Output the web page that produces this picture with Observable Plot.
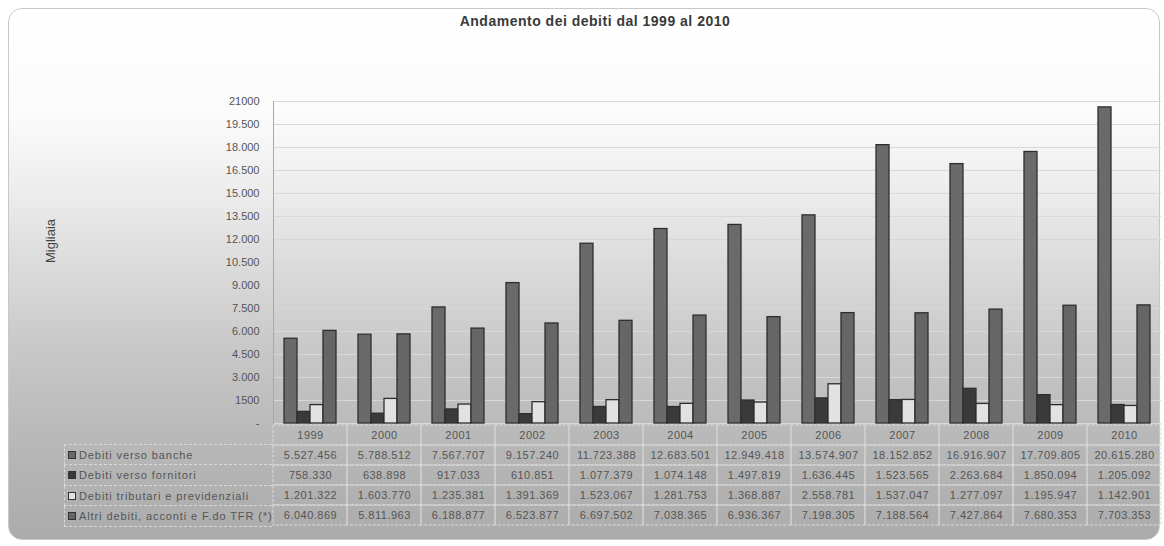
<!DOCTYPE html>
<html><head><meta charset="utf-8">
<script src="https://cdn.jsdelivr.net/npm/d3@7"></script>
<script src="https://cdn.jsdelivr.net/npm/@observablehq/plot@0.6"></script>
<style>
body{margin:0;background:#fff;}
#wrap{position:relative;width:1164px;height:546px;overflow:hidden;font-family:"Liberation Sans",Arial,sans-serif;background:#fff;}
#panel{position:absolute;left:8px;top:8px;width:1152px;height:532px;border:1px solid #c8c8c8;border-radius:14px;box-sizing:border-box;
 background:linear-gradient(to bottom,#ffffff 0%,#fbfbfb 20%,#ececec 35%,#d9d9d9 50%,#c7c7c7 65%,#b9b9b9 80%,#ababab 100%);}
#title{position:absolute;top:13px;left:0;width:1190px;text-align:center;font-size:14px;font-weight:bold;color:#3a3a3a;letter-spacing:0.5px;}
#ylab{position:absolute;left:50px;top:241px;transform:translate(-50%,-50%) rotate(-90deg);font-size:13px;color:#444;white-space:nowrap;}
#main,#table{position:absolute;left:0;}
#main{top:0;} #table{top:423px;}
#legend{position:absolute;left:64px;top:444px;width:208px;}
#legend div{height:20.8px;line-height:20.8px;box-sizing:border-box;border-bottom:1px dashed #d8d8d8;border-left:1px dashed #d8d8d8;font-size:11px;letter-spacing:0.9px;color:#555;white-space:nowrap;padding-left:3px;}
#legend div:first-child{border-top:1px dashed #d8d8d8;}
#legend span.sw{display:inline-block;width:6px;height:6px;border:1px solid #333;margin-right:3px;vertical-align:middle;position:relative;top:-1px;}
</style></head>
<body>
<div id="wrap">
 <div id="panel"></div>
 <div id="title">Andamento dei debiti dal 1999 al 2010</div>
 <div id="ylab">Migliaia</div>
 <div id="main"></div>
 <div id="table"></div>
 <div id="legend"></div>
</div>
<script>
const years = ["1999","2000","2001","2002","2003","2004","2005","2006","2007","2008","2009","2010"];
const seriesNames = ["Debiti verso banche","Debiti verso fornitori","Debiti tributari e previdenziali","Altri debiti, acconti e F.do TFR (*)"];
const banche = [5527456,5788512,7567707,9157240,11723388,12683501,12949418,13574907,18152852,16916907,17709805,20615280];
const fornitori = [758330,638898,917033,610851,1077379,1074148,1497819,1636445,1523565,2263684,1850094,1205092];
const tributari = [1201322,1603770,1235381,1391369,1523067,1281753,1368887,2558781,1537047,1277097,1195947,1142901];
const altri = [6040869,5811963,6188877,6523877,6697502,7038365,6936367,7198305,7188564,7427864,7680353,7703353];
const yTicks = [0,1500,3000,4500,6000,7500,9000,10500,12000,13500,15000,16500,18000,19500,21000];
const yTickLabels = ["-","1500","3.000","4.500","6.000","7.500","9.000","10.500","12.000","13.500","15.000","16.500","18.000","19.500","21000"];

const seriesValues = [banche, fornitori, tributari, altri];
const colors = ["#6a6a6a","#3a3a3a","#e2e2e2","#666666"];
const data = years.flatMap((yr, i) => seriesNames.map((s, j) => ({year: yr, series: s, raw: seriesValues[j][i], value: seriesValues[j][i] / 1000})));
const labelMap = new Map(yTicks.map((t, i) => [t, yTickLabels[i]]));
const fmt = d3.formatLocale({decimal: ",", thousands: ".", grouping: [3], currency: ["", ""]}).format(",d");
const font = '"Liberation Sans", Arial, sans-serif';

const main = Plot.plot({
  width: 1164, height: 431,
  marginLeft: 272, marginRight: 3, marginTop: 101, marginBottom: 8,
  style: {background: "transparent", fontFamily: font, fontSize: "11px", color: "#555"},
  fx: {domain: years, padding: 0, axis: null},
  x: {domain: seriesNames, paddingInner: 0, paddingOuter: 0.68, axis: null},
  y: {domain: [0, 21000], axis: null},
  color: {domain: seriesNames, range: colors},
  marks: [
    Plot.ruleY(yTicks, {stroke: "#d8d8d8", strokeWidth: 1}),
    Plot.frame({anchor: "left", stroke: "#a9a9a9", facet: "super"}),
    Plot.barY(data, {fx: "year", x: "series", y: "value", fill: "series", stroke: "#2e2e2e", strokeWidth: 1.3}),
    Plot.axisY({ticks: yTicks, tickFormat: d => labelMap.get(d), tickSize: 0, tickPadding: 14, fontSize: 11, label: null})
  ]
});
document.getElementById("main").appendChild(main);

const rows = ["_year", ...seriesNames];
const cells = years.flatMap(yr => rows.map(r => ({year: yr, row: r})));
const table = Plot.plot({
  width: 1164, height: 104,
  marginLeft: 272, marginRight: 3, marginTop: 0, marginBottom: 0,
  style: {background: "transparent", fontFamily: font, fontSize: "11px", color: "#555"},
  x: {domain: years, padding: 0, axis: null},
  y: {domain: rows, padding: 0, axis: null},
  marks: [
    Plot.cell(cells, {x: "year", y: "row", fill: "none", stroke: "#dcdcdc", strokeDasharray: "3,1.5", strokeWidth: 1}),
    Plot.text(years, {x: d => d, y: () => "_year", text: d => d, fill: "#555", fontSize: 11}),
    Plot.text(data, {x: "year", y: "series", text: d => fmt(d.raw), fill: "#555", fontSize: 11})
  ]
});
table.querySelectorAll("text").forEach(t => t.style.letterSpacing = "0.5px");
document.getElementById("table").appendChild(table);

const legend = document.getElementById("legend");
seriesNames.forEach((s, j) => {
  const row = document.createElement("div");
  const sw = document.createElement("span");
  sw.className = "sw"; sw.style.background = colors[j];
  row.appendChild(sw);
  row.appendChild(document.createTextNode(s));
  legend.appendChild(row);
});
</script>
</body></html>
